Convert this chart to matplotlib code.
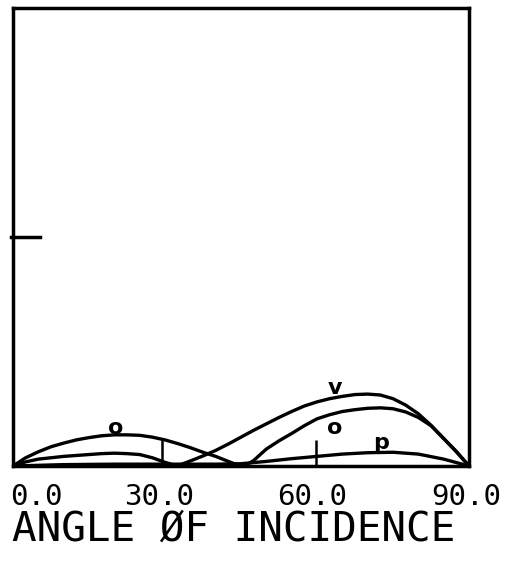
import matplotlib
matplotlib.use("Agg")
import matplotlib.pyplot as plt

# reflectance curves vs angle of incidence
ang_o = [0, 2.5, 5, 7.5, 10, 12.5, 15, 17.5, 20, 22.5, 25, 27.5, 30, 32.5, 35, 37.5, 40, 42.5,
         44.8, 46, 47.5, 50, 52.5, 55, 57.5, 60, 62.5, 65, 67.5, 70, 72.5, 75, 77.5, 80, 82.5,
         85, 87.5, 90]
val_o = [0, 0.018, 0.031, 0.042, 0.050, 0.057, 0.062, 0.066, 0.068, 0.068, 0.067, 0.063, 0.057,
         0.049, 0.040, 0.030, 0.021, 0.010, 0, 0.002, 0.012, 0.037, 0.055, 0.071, 0.088, 0.103,
         0.112, 0.119, 0.123, 0.126, 0.127, 0.125, 0.118, 0.106, 0.088, 0.060, 0.032, 0]

ang_v = [0, 2.5, 5, 7.5, 10, 12.5, 15, 17.5, 20, 22.5, 25, 27.5, 30, 32.4, 35, 37.5, 40, 42.5,
         45, 47.5, 50, 52.5, 55, 57.5, 60, 62.5, 65, 67.5, 70, 72.5, 75, 77.5, 80, 82.5, 85,
         87.5, 90]
val_v = [0, 0.009, 0.015, 0.018, 0.021, 0.023, 0.025, 0.027, 0.028, 0.027, 0.025, 0.018, 0.008,
         0, 0.011, 0.022, 0.034, 0.048, 0.063, 0.078, 0.092, 0.106, 0.119, 0.131, 0.140, 0.147,
         0.152, 0.156, 0.157, 0.155, 0.147, 0.133, 0.114, 0.089, 0.060, 0.031, 0]

ang_p = [0, 10, 20, 30, 40, 45, 50, 55, 60, 65, 70, 75, 80, 85, 90]
val_p = [0, 0.003, 0.004, 0.004, 0.004, 0.005, 0.010, 0.016, 0.021, 0.026, 0.029, 0.030,
         0.026, 0.015, 0]

# marker lines
mark_ang = [29.5, 59.8]
mark_top = [0.058, 0.057]

xtick_text = ["0.0", "30.0", "60.0", "90.0"]

fig = plt.figure(figsize=(5.11, 5.63), dpi=100)
ax = fig.add_axes([13 / 511, 1 - 466 / 563, 456 / 511, 458 / 563])

lw = 2.4
for a, v in [(ang_o, val_o), (ang_v, val_v), (ang_p, val_p)]:
    ax.plot(a, v, color="black", lw=lw, solid_joinstyle="round")
ax.vlines(mark_ang, 0, mark_top, color="black", lw=1.8)

ax.set_xlim(0, 90)
ax.set_ylim(0, 1)
ax.set_xticks([])
ax.set_yticks([])
for s in ax.spines.values():
    s.set_linewidth(2.5)

# single tick on the left border at mid height
ax.plot([-0.4, 5.3], [0.5, 0.5], color="black", lw=2.5, clip_on=False)

# curve labels
lab_kw = dict(fontsize=16, fontweight="bold", ha="center", va="center", family="DejaVu Sans")
ax.text(20.3, 0.084, "o", **lab_kw)
ax.text(63.5, 0.171, "v", **lab_kw)
ax.text(63.5, 0.084, "o", **lab_kw)
ax.text(72.6, 0.050, "p", **lab_kw)

# tick labels in plotter style
tick_x = [-0.6, 28.8, 59.0, 89.4]
tick_ha = ["left", "center", "center", "center"]
for x, t, ha in zip(tick_x, xtick_text, tick_ha):
    ax.text(x, -0.068, t, transform=ax.get_xaxis_transform(), ha=ha, va="center",
            fontsize=21, family="DejaVu Sans Mono")

fig.text(12 / 511, 1 - 530 / 563, "ANGLE ØF INCIDENCE", ha="left", va="center",
         fontsize=29.5, family="DejaVu Sans Mono")

fig.savefig("out.png", dpi=100)
